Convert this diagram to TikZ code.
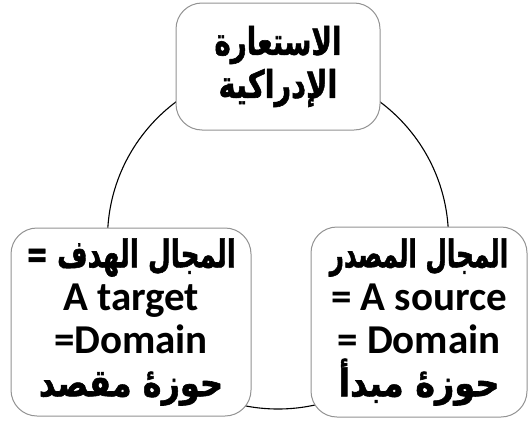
\documentclass[tikz,border=0pt]{standalone}
\usepackage{graphicx}
\usepackage{fontspec}
\setmainfont{Carlito}
\newfontfamily\arabicfont[Script=Arabic,BoldFeatures={FakeBold=1.6}]{DejaVu Sans}
\TeXXeTstate=1
% Arabic line, squeezed sideways by #1
\newcommand{\ar}[2][1]{\scalebox{#1}[1]{\fontsize{38}{43}\selectfont\arabicfont\beginR #2\endR}}

\begin{document}
\begin{tikzpicture}[x=1pt,y=-1pt,
  box/.style={draw=gray!85,line width=1pt,fill=white,rectangle,
    rounded corners=26pt,align=center,inner sep=0pt,
    font=\bfseries\fontsize{41}{43}\selectfont}]
  \useasboundingbox (0,0) rectangle (532,423);

  \coordinate (Ring) at (278,238.5);
  \draw[line width=1.1pt] (Ring) circle[radius=170.5pt];

  \node[box,minimum width=204pt,minimum height=127pt] (Metaphor) at (278,66.5)
    {\ar[0.73]{الاستعارة}\\\ar[0.76]{الإدراكية}};
  \node[box,minimum width=240pt,minimum height=188pt] (Target) at (131,322)
    {\ar[0.69]{المجال الهدف =}\\A target\\=Domain\\\ar[0.84]{حوزهٔ مقصد}};
  \node[box,minimum width=216pt,minimum height=190pt] (Source) at (419,322)
    {\ar[0.65]{المجال المصدر}\\= A source\\= Domain\\\ar[0.88]{حوزهٔ مبدأ}};
\end{tikzpicture}
\end{document}
